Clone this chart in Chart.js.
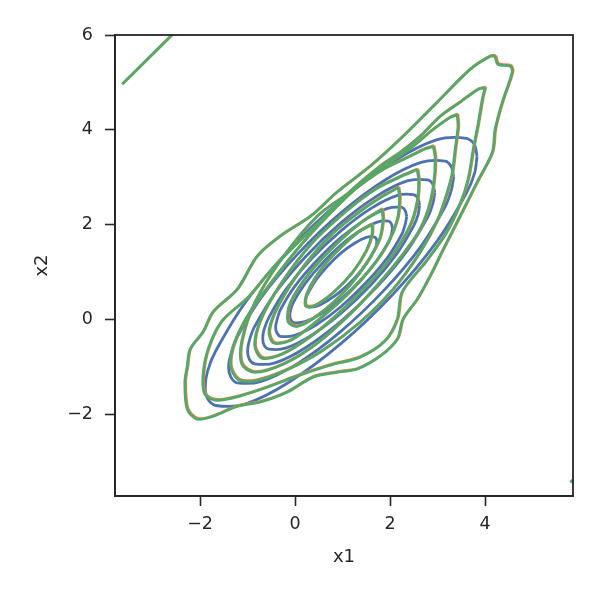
<!DOCTYPE html>
<html>
<head>
<meta charset="utf-8">
<script src="https://cdn.jsdelivr.net/npm/chart.js@4.4.1/dist/chart.umd.min.js"></script>
<style>
  html, body { margin: 0; padding: 0; background: #fff; }
  #wrap { width: 600px; height: 600px; }
</style>
</head>
<body>
<div id="wrap"><canvas id="canvas"></canvas></div>
<script>
// axis setup
const xTicks = [-2, 0, 2, 4];
const yTicks = [-2, 0, 2, 4, 6];
const xLabel = "x1";
const yLabel = "x2";

// blue contours (smooth, 7 levels)
const blue1 = [[3.83,3.43],[3.78,3.68],[3.61,3.82],[2.99,3.79],[2.07,3.33],[0.97,2.51],[-0.13,1.46],[-1.05,0.35],[-1.67,-0.67],[-1.84,-1.09],[-1.89,-1.43],[-1.84,-1.68],[-1.67,-1.82],[-1.05,-1.79],[-0.13,-1.33],[0.97,-0.51],[2.07,0.54],[2.99,1.65],[3.61,2.67],[3.78,3.09],[3.83,3.43]];
const blue2 = [[3.34,3.01],[3.29,3.22],[3.16,3.34],[2.65,3.31],[1.88,2.93],[0.97,2.25],[0.06,1.38],[-0.71,0.46],[-1.22,-0.38],[-1.35,-0.73],[-1.40,-1.01],[-1.35,-1.22],[-1.22,-1.34],[-0.71,-1.31],[0.06,-0.93],[0.97,-0.25],[1.88,0.62],[2.65,1.54],[3.16,2.38],[3.29,2.73],[3.34,3.01]];
const blue3 = [[2.94,2.67],[2.90,2.85],[2.79,2.94],[2.36,2.92],[1.72,2.60],[0.97,2.04],[0.22,1.32],[-0.42,0.55],[-0.85,-0.15],[-0.96,-0.44],[-1.00,-0.67],[-0.96,-0.85],[-0.85,-0.94],[-0.42,-0.92],[0.22,-0.60],[0.97,-0.04],[1.72,0.68],[2.36,1.45],[2.79,2.15],[2.90,2.44],[2.94,2.67]];
const blue4 = [[2.62,2.40],[2.59,2.55],[2.49,2.63],[2.14,2.61],[1.60,2.34],[0.97,1.87],[0.34,1.27],[-0.20,0.62],[-0.55,0.04],[-0.65,-0.21],[-0.68,-0.40],[-0.65,-0.55],[-0.55,-0.63],[-0.20,-0.61],[0.34,-0.34],[0.97,0.13],[1.60,0.73],[2.14,1.38],[2.49,1.96],[2.59,2.21],[2.62,2.40]];
const blue5 = [[2.35,2.17],[2.32,2.29],[2.25,2.36],[1.95,2.34],[1.50,2.12],[0.97,1.73],[0.44,1.22],[-0.01,0.69],[-0.31,0.20],[-0.38,-0.01],[-0.41,-0.17],[-0.38,-0.29],[-0.31,-0.36],[-0.01,-0.34],[0.44,-0.12],[0.97,0.27],[1.50,0.78],[1.95,1.31],[2.25,1.80],[2.32,2.01],[2.35,2.17]];
const blue6 = [[2.05,1.92],[2.03,2.01],[1.97,2.07],[1.73,2.05],[1.38,1.88],[0.97,1.57],[0.56,1.17],[0.21,0.75],[-0.03,0.37],[-0.09,0.21],[-0.11,0.08],[-0.09,-0.01],[-0.03,-0.07],[0.21,-0.05],[0.56,0.12],[0.97,0.43],[1.38,0.83],[1.73,1.25],[1.97,1.63],[2.03,1.79],[2.05,1.92]];
const blue7 = [[1.72,1.64],[1.71,1.70],[1.66,1.74],[1.50,1.73],[1.26,1.61],[0.97,1.40],[0.68,1.12],[0.44,0.83],[0.28,0.56],[0.23,0.45],[0.22,0.36],[0.23,0.30],[0.28,0.26],[0.44,0.27],[0.68,0.39],[0.97,0.60],[1.26,0.88],[1.50,1.17],[1.66,1.44],[1.71,1.55],[1.72,1.64]];

// green / orange contours (wiggly, 8 levels)
const green1 = [[4.21,5.55],[4.27,5.38],[4.53,5.34],[4.57,5.21],[4.36,4.58],[4.21,4.01],[4.15,3.52],[3.83,2.89],[3.47,2.17],[3.12,1.48],[2.84,0.91],[2.57,0.42],[2.27,0.00],[2.15,-0.42],[1.79,-0.78],[1.31,-1.05],[0.88,-1.12],[0.38,-1.22],[-0.17,-1.54],[-0.74,-1.75],[-1.22,-1.84],[-1.73,-2.05],[-2.06,-2.11],[-2.27,-1.90],[-2.32,-1.33],[-2.27,-0.99],[-2.21,-0.63],[-1.94,-0.27],[-1.73,0.15],[-1.22,0.63],[-0.80,1.33],[-0.32,1.75],[0.32,2.17],[0.88,2.68],[1.58,3.23],[2.27,3.86],[2.99,4.58],[3.68,5.27],[4.11,5.55],[4.21,5.55]];
const green2 = [[4.00,4.89],[3.94,4.64],[3.85,4.11],[3.75,3.59],[3.64,2.95],[3.47,2.43],[3.16,1.79],[2.74,1.20],[2.25,0.57],[2.15,0.00],[1.89,-0.46],[1.37,-0.80],[0.74,-0.97],[0.04,-1.20],[-0.57,-1.43],[-1.16,-1.62],[-1.64,-1.71],[-1.89,-1.60],[-1.94,-1.22],[-1.83,-0.63],[-1.54,-0.04],[-0.99,0.46],[-0.53,1.01],[-0.04,1.52],[0.53,2.07],[1.16,2.70],[1.79,3.23],[2.21,3.52],[2.63,3.86],[3.05,4.28],[3.47,4.58],[3.85,4.85],[4.00,4.89]];
const green3 = [[3.41,4.32],[3.43,4.07],[3.37,3.59],[3.31,3.10],[3.22,2.74],[3.00,2.10],[2.62,1.40],[2.05,0.62],[1.35,-0.08],[0.55,-0.68],[-0.20,-1.08],[-0.85,-1.30],[-1.20,-1.27],[-1.36,-0.98],[-1.27,-0.48],[-0.97,0.12],[-0.47,0.82],[0.15,1.60],[0.90,2.40],[1.50,2.95],[2.00,3.31],[2.48,3.65],[2.90,4.00],[3.25,4.25],[3.41,4.32]];
const green4 = [[2.91,3.65],[2.95,3.38],[2.91,2.81],[2.80,2.32],[2.60,1.85],[2.25,1.35],[1.80,0.80],[1.20,0.15],[0.45,-0.52],[-0.25,-0.95],[-0.85,-1.12],[-1.12,-0.95],[-1.12,-0.45],[-0.85,0.35],[-0.30,1.25],[0.46,2.17],[1.16,2.68],[1.85,3.16],[2.42,3.44],[2.75,3.60],[2.91,3.65]];
const green5 = [[2.57,3.16],[2.60,2.95],[2.58,2.55],[2.45,2.05],[2.15,1.50],[1.70,0.92],[1.05,0.25],[0.35,-0.35],[-0.30,-0.75],[-0.70,-0.82],[-0.85,-0.55],[-0.72,0.00],[-0.30,0.75],[0.35,1.60],[1.10,2.30],[1.70,2.75],[2.20,3.00],[2.57,3.16]];
const green6 = [[2.17,2.78],[2.20,2.55],[2.15,2.10],[1.95,1.60],[1.60,1.08],[1.08,0.50],[0.45,-0.05],[-0.10,-0.45],[-0.45,-0.50],[-0.55,-0.25],[-0.35,0.30],[0.15,1.08],[0.80,1.82],[1.40,2.30],[1.85,2.60],[2.17,2.78]];
const green7 = [[1.83,2.32],[1.85,2.10],[1.78,1.70],[1.50,1.18],[1.05,0.60],[0.50,0.10],[0.05,-0.15],[-0.15,-0.05],[-0.10,0.35],[0.32,1.00],[0.88,1.60],[1.40,2.05],[1.83,2.32]];
const green8 = [[1.62,2.00],[1.62,1.80],[1.50,1.45],[1.20,0.98],[0.80,0.56],[0.40,0.28],[0.22,0.28],[0.25,0.55],[0.58,1.10],[1.00,1.55],[1.35,1.85],[1.62,2.00]];
// stray pieces of the outer level at the edges
const cornerTop = [[-3.64,4.96],[-2.45,6.14]];
const cornerBottom = [[5.79,-3.41],[5.92,-3.48]];

const blueSet = [blue1, blue2, blue3, blue4, blue5, blue6, blue7];
const greenSet = [green1, green2, green3, green4, green5, green6, green7, green8, cornerTop, cornerBottom];

const BLUE = "#4c72b0";
const ORANGE = "#dd8452";
const GREEN = "#55a868";
const INK = "#262626";

function toXY(arr) {
    return arr.map(p => ({x: p[0], y: p[1]}));
}

function contour(arr, color, order, label) {
    return {
        label: label,
        type: "scatter",
        data: toXY(arr),
        showLine: true,
        borderColor: color,
        backgroundColor: color,
        borderWidth: 2.8,
        pointRadius: 0,
        tension: 0.3,
        fill: false,
        order: order,
    };
}

const datasets = [];
blueSet.forEach(a => datasets.push(contour(a, BLUE, 3, "blue")));
greenSet.forEach(a => datasets.push(contour(a, ORANGE, 2, "orange")));
greenSet.forEach(a => datasets.push(contour(a, GREEN, 1, "green")));

// orange sits a hair up-right of green, so only a fringe shows
const nudge = {
    id: "nudge",
    beforeDatasetDraw(chart, args) {
        if (args.meta.label === "orange") {
            chart.ctx.save();
            chart.ctx.translate(0.8, -0.8);
        }
    },
    afterDatasetDraw(chart, args) {
        if (args.meta.label === "orange") chart.ctx.restore();
    },
};

// frame round the plot (top and right spines too)
const frame = {
    id: "frame",
    afterDatasetsDraw(chart) {
        const {ctx, chartArea: a} = chart;
        ctx.save();
        ctx.strokeStyle = INK;
        ctx.lineWidth = 1.8;
        ctx.strokeRect(a.left, a.top, a.right - a.left, a.bottom - a.top);
        ctx.restore();
    },
};

const minus = v => String(v).replace("-", "\u2212");
const tickFont = {family: "DejaVu Sans", size: 17.5};
const titleFont = {family: "DejaVu Sans", size: 18};

new Chart(document.getElementById("canvas"), {
    type: "scatter",
    data: {datasets},
    options: {
        responsive: true,
        maintainAspectRatio: false,
        animation: false,
        events: [],
        plugins: {legend: {display: false}, tooltip: {enabled: false}},
        layout: {padding: {top: 35, right: 27, left: 0, bottom: 0}},
        scales: {
            x: {
                type: "linear",
                min: -3.79,
                max: 5.85,
                afterBuildTicks: s => { s.ticks = xTicks.map(v => ({value: v})); },
                afterFit: s => { s.height = 104; },
                grid: {drawOnChartArea: false, drawTicks: true, tickLength: 10, tickWidth: 1.6, tickColor: INK},
                border: {display: true, color: INK, width: 1.8},
                ticks: {color: INK, font: tickFont, padding: 8, callback: minus, maxRotation: 0},
                title: {display: true, text: xLabel, color: INK, font: titleFont, padding: {top: 0, bottom: 32}},
            },
            y: {
                type: "linear",
                min: -3.73,
                max: 6,
                afterBuildTicks: s => { s.ticks = yTicks.map(v => ({value: v})); },
                afterFit: s => { s.width = 115; },
                grid: {drawOnChartArea: false, drawTicks: true, tickLength: 10, tickWidth: 1.6, tickColor: INK},
                border: {display: true, color: INK, width: 1.8},
                ticks: {color: INK, font: tickFont, padding: 12, callback: minus},
                title: {display: true, text: yLabel, color: INK, font: titleFont, padding: {top: 32, bottom: 0}},
            },
        },
    },
    plugins: [nudge, frame],
});
</script>
</body>
</html>
